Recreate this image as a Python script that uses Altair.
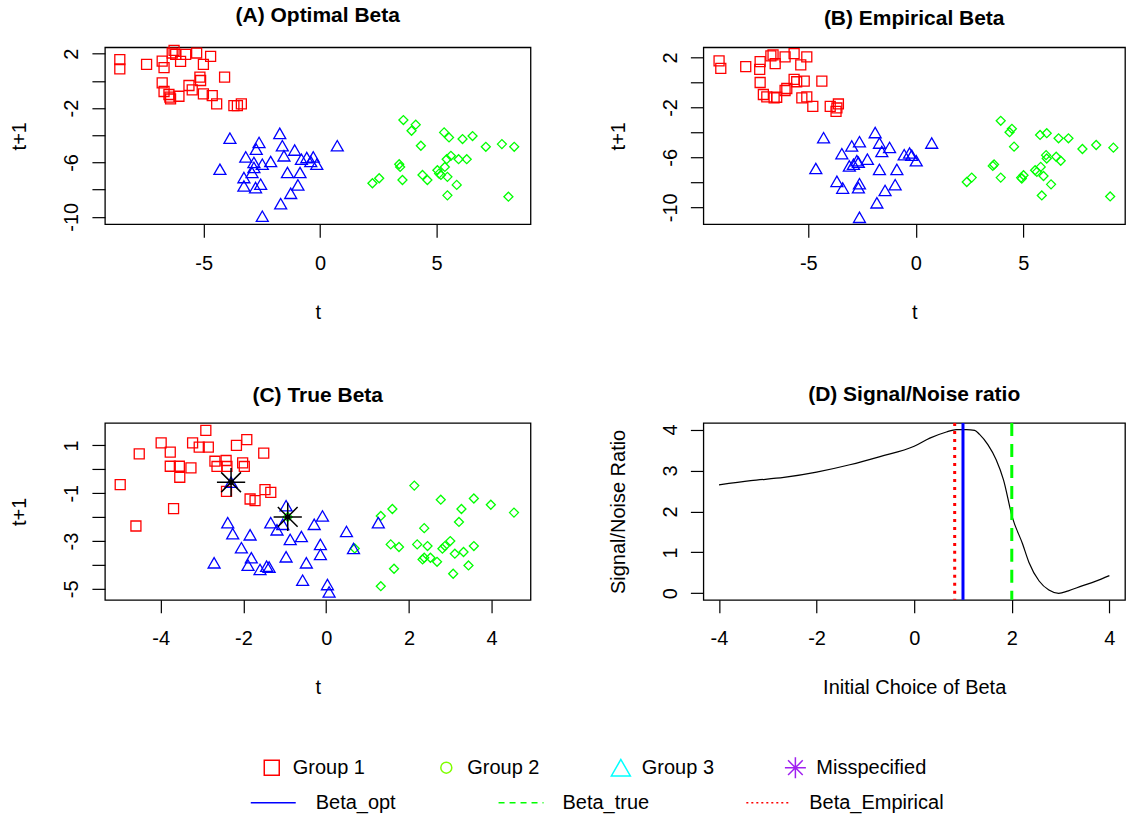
import altair as alt
import pandas as pd

FONT = "Liberation Sans"
MINUS = "\u2212"

# ---------------- Panel A: Optimal Beta ----------------
a_g1_t = [-8.60, -8.60, -7.45, -6.78, -6.70, -6.35, -6.20, -6.27, -5.99, -5.77, -5.30, -5.01, -4.70, -6.78, -6.70,
          -6.49, -6.42, -6.06, -5.63, -5.49, -5.16, -5.13, -5.01, -4.63, -4.44, -4.10, -3.70, -3.55, -3.38, -6.45]
a_g1_y = [1.56, 0.89, 1.21, 1.46, 0.97, 2.05, 1.95, 2.25, 1.43, 1.95, 2.05, 1.21, 1.80, -0.14, -0.78,
          -1.00, -1.33, -1.13, -0.34, -0.66, 0.28, 0.03, -0.96, -1.08, -1.69, 0.28, -1.82, -1.82, -1.69, -1.20]
a_g2_t = [3.58, 4.11, 3.93, 4.33, 5.33, 5.54, 6.12, 6.55, 7.12, 7.81, 8.34, 3.40, 3.44, 2.25, 2.54,
          3.54, 4.40, 4.61, 5.04, 5.19, 5.36, 5.44, 5.62, 5.95, 6.30, 5.47, 5.87, 5.47, 8.09, 5.11]
a_g2_y = [-2.88, -3.22, -3.67, -4.77, -3.79, -4.16, -4.28, -4.06, -4.85, -4.65, -4.85, -6.13, -6.33, -7.53, -7.16,
          -7.29, -6.92, -7.29, -6.57, -6.92, -6.33, -5.76, -5.51, -5.76, -5.76, -7.06, -7.65, -8.42, -8.52, -6.82]
a_g3_t = [-3.87, -4.30, -2.62, -2.74, -1.73, -1.62, -1.55, -1.09, -3.19, -2.84, -2.48, -2.12, -2.92, -3.27, -3.27,
          -2.77, -2.55, -1.40, -0.86, -0.95, -1.26, -1.69, -2.48, -0.80, -0.57, -0.29, -0.40, -0.14, 0.74, -2.84]
a_g3_y = [-4.21, -6.50, -4.53, -5.02, -3.86, -4.77, -5.51, -5.09, -5.59, -6.00, -6.13, -5.93, -6.74, -7.11, -7.73,
          -7.85, -7.60, -6.74, -6.74, -7.65, -8.27, -9.03, -9.95, -5.76, -5.64, -5.59, -5.93, -6.13, -4.77, -6.37]

# ---------------- Panel B: Empirical Beta ----------------
b_g1_t = [-9.15, -9.07, -7.91, -7.24, -7.26, -6.74, -6.64, -6.54, -6.08, -5.66, -5.35, -5.07, -7.24, -7.09, -6.93,
          -6.59, -6.47, -6.08, -6.00, -5.66, -5.54, -5.19, -5.30, -5.07, -4.79, -4.37, -3.98, -3.71, -3.67, -3.60]
b_g1_y = [1.73, 1.14, 1.27, 1.68, 1.06, 2.13, 2.22, 1.51, 2.05, 2.32, 1.41, 2.05, 0.00, -0.96, -1.15,
          -1.23, -1.18, -0.64, -0.48, 0.25, 0.06, 0.11, -1.23, -1.15, -1.91, 0.11, -1.91, -2.31, -2.04, -1.72]
b_g2_t = [3.95, 4.47, 4.36, 4.57, 5.78, 6.09, 6.64, 7.10, 7.75, 8.39, 9.19, 3.64, 3.58, 2.37, 2.60,
          3.95, 4.90, 5.01, 5.55, 5.63, 5.81, 6.06, 6.09, 6.53, 6.74, 5.94, 6.29, 5.86, 9.04, 4.93]
b_g2_y = [-3.07, -3.71, -3.98, -5.14, -4.20, -4.06, -4.47, -4.47, -5.33, -5.01, -5.22, -6.57, -6.68, -7.97, -7.62,
          -7.62, -7.62, -7.43, -7.03, -7.16, -6.76, -5.82, -6.09, -5.95, -6.27, -7.49, -8.16, -9.05, -9.13, -7.70]
b_g3_t = [-4.29, -4.65, -2.62, -1.89, -2.98, -3.44, -1.69, -1.58, -1.22, -2.74, -2.67, -3.09, -2.90, -2.25, -1.69,
          -0.88, -3.67, -3.40, -2.62, -2.67, -1.43, -0.96, -1.81, -2.62, -0.54, -0.29, -0.19, 0.02, 0.74]
b_g3_y = [-4.42, -6.89, -4.74, -4.01, -5.08, -5.70, -4.85, -5.53, -5.20, -6.26, -6.39, -6.68, -6.55, -6.14, -6.96,
          -6.96, -7.92, -8.46, -8.11, -8.43, -8.65, -8.19, -9.64, -10.80, -5.78, -5.65, -5.83, -6.27, -4.85]

# ---------------- Panel C: True Beta ----------------
c_g1_t = [-4.52, -4.98, -4.60, -3.69, -3.99, -3.77, -3.77, -3.55, -3.54, -3.27, -3.23, -3.07, -2.85, -2.91,
          -2.69, -2.64, -2.42, -2.40, -2.17, -1.92, -2.02, -1.98, -2.41, -1.51, -1.48, -1.34, -1.84, -1.72]
c_g1_y = [0.65, -0.64, -2.37, -1.64, 1.11, 0.72, 0.13, 0.13, -0.33, 0.06, 1.11, 0.93, 0.93, 1.63,
          0.34, 0.12, 0.37, 0.12, 1.00, 1.24, 0.27, 0.12, -0.92, 0.68, -0.85, -0.96, -1.24, -1.31]
c_g2_t = [0.69, 1.32, 1.60, 2.13, 2.77, 3.27, 3.57, 3.98, 4.54, 3.21, 2.37, 1.56, 1.76, 2.20, 2.45,
          2.81, 2.87, 3.00, 3.11, 3.32, 3.57, 2.33, 2.37, 2.52, 2.68, 3.44, 1.64, 3.07, 1.32, -0.93]
c_g2_y = [-3.31, -1.95, -1.66, -0.68, -1.27, -1.66, -1.22, -1.48, -1.81, -2.20, -2.46, -3.14, -3.25, -3.14, -3.21,
          -3.32, -3.21, -3.00, -3.53, -3.46, -3.21, -3.77, -3.70, -3.70, -3.87, -4.02, -4.16, -4.37, -4.89, -1.99]
c_g3_t = [-2.38, -2.26, -2.71, -1.84, -2.05, -1.81, -1.89, -1.60, -1.44, -1.38, -1.34, -1.19, -1.05, -0.97, -0.87,
          -0.60, -0.97, -0.48, -0.57, -0.29, -0.09, -0.14, -0.14, 0.03, 0.07, 0.49, 0.66, 1.26, -2.30]
c_g3_y = [-2.23, -2.69, -3.91, -2.74, -3.28, -3.70, -4.01, -4.19, -4.05, -4.09, -2.23, -2.53, -2.30, -1.52, -2.93,
          -2.81, -3.66, -3.91, -4.64, -2.30, -1.95, -3.14, -3.56, -4.82, -5.13, -2.60, -3.31, -2.23, -0.54]
c_mis_t = [-2.30, -0.93]
c_mis_y = [-0.54, -1.99]

# ---------------- Panel D: Signal/Noise ratio ----------------
d_beta = [-4.00, -3.35, -2.67, -2.00, -1.32, -0.70, 0.00, 0.32, 0.66, 0.86, 1.07, 1.24, 1.34, 1.51, 1.68,
          1.83, 2.01, 2.22, 2.35, 2.56, 2.76, 2.96, 3.16, 3.44, 3.71, 4.00]
d_snr = [2.65, 2.75, 2.83, 2.96, 3.14, 3.34, 3.59, 3.79, 3.94, 4.00, 4.00, 3.98, 3.88, 3.63, 3.26,
         2.77, 1.86, 1.21, 0.76, 0.30, 0.08, 0.00, 0.06, 0.18, 0.29, 0.43]
beta_opt = 1.00
beta_true = 2.00
beta_emp = 0.83

# ---------------- Legend ----------------
leg_groups = ["Group 1", "Group 2", "Group 3", "Misspecified"]
leg_lines = ["Beta_opt", "Beta_true", "Beta_Empirical"]

# ---------------- styles ----------------
RED, GREEN, BLUE = "#FF0000", "#00FF00", "#0000FF"
ASTER = "M-1,0L1,0M0,-1L0,1M-0.7,-0.7L0.7,0.7M-0.7,0.7L0.7,-0.7"
W_L, W_R, H = 426, 422, 177


def lab(cond=None):
    s = f"replace(datum.label, '{MINUS}', '-')"
    return f"{cond} ? {s} : ''" if cond else s


def pts(tv, yv, color, shape, size, xsc, ysc, xax, yax, sw=1.3, filled=False):
    df = pd.DataFrame({"t": tv, "y": yv})
    return alt.Chart(df).mark_point(filled=filled, color=color, shape=shape, size=size,
                                    strokeWidth=sw, opacity=1).encode(
        x=alt.X("t:Q", scale=xsc, axis=xax),
        y=alt.Y("y:Q", scale=ysc, axis=yax))


def scatter(title, groups, xdom, ydom, xticks, yticks, ycond, width, extra=()):
    xsc = alt.Scale(domain=xdom, nice=False, zero=False)
    ysc = alt.Scale(domain=ydom, nice=False, zero=False)
    xax = alt.Axis(values=xticks, title="t", labelExpr=lab())
    yax = alt.Axis(values=yticks, title="t+1", labelExpr=lab(ycond))
    layers = []
    for tv, yv, color, shape, size in groups:
        layers.append(pts(tv, yv, color, shape, size, xsc, ysc, xax, yax))
    for tv, yv, color, shape, size, sw, filled in extra:
        layers.append(pts(tv, yv, color, shape, size, xsc, ysc, xax, yax, sw=sw, filled=filled))
    return alt.layer(*layers).properties(width=width, height=H, title=title)


ab_y = [-10, -8, -6, -4, -2, 0, 2]
ab_cond = "abs(datum.value % 4) == 2"

A = scatter("(A) Optimal Beta",
            [(a_g1_t, a_g1_y, RED, "square", 100),
             (a_g2_t, a_g2_y, GREEN, "diamond", 81),
             (a_g3_t, a_g3_y, BLUE, "triangle-up", 144)],
            [-9.24, 9.04], [-10.54, 2.47], [-5, 0, 5], ab_y, ab_cond, W_L)

B = scatter("(B) Empirical Beta",
            [(b_g1_t, b_g1_y, RED, "square", 100),
             (b_g2_t, b_g2_y, GREEN, "diamond", 81),
             (b_g3_t, b_g3_y, BLUE, "triangle-up", 144)],
            [-9.88, 9.73], [-11.35, 2.82], [-5, 0, 5], ab_y, ab_cond, W_R)

C = scatter("(C) True Beta",
            [(c_g1_t, c_g1_y, RED, "square", 100),
             (c_g2_t, c_g2_y, GREEN, "diamond", 81),
             (c_g3_t, c_g3_y, BLUE, "triangle-up", 144)],
            [-5.35, 4.94], [-5.46, 1.94], [-4, -2, 0, 2, 4], [-5, -4, -3, -2, -1, 0, 1],
            "abs(datum.value % 2) == 1", W_L,
            extra=[(c_mis_t, c_mis_y, "black", ASTER, 800, 1.5, False),
                   (c_mis_t, c_mis_y, "black", "circle", 30, 1, True)])

# Panel D
dx = alt.Scale(domain=[-4.32, 4.32], nice=False, zero=False)
dy = alt.Scale(domain=[-0.16, 4.16], nice=False, zero=False)
dxa = alt.Axis(values=[-4, -2, 0, 2, 4], title="Initial Choice of Beta", labelExpr=lab())
dya = alt.Axis(values=[0, 1, 2, 3, 4], title="Signal/Noise Ratio")
d_df = pd.DataFrame({"beta": d_beta, "snr": d_snr})
d_line = alt.Chart(d_df).mark_line(color="black", strokeWidth=1.2, interpolate="monotone").encode(
    x=alt.X("beta:Q", scale=dx, axis=dxa), y=alt.Y("snr:Q", scale=dy, axis=dya))


def vrule(val, color, dash):
    m = dict(color=color, strokeWidth=3)
    if dash:
        m["strokeDash"] = dash
    return alt.Chart(pd.DataFrame({"beta": [val]})).mark_rule(**m).encode(
        x=alt.X("beta:Q", scale=dx, axis=dxa))


D = alt.layer(d_line,
              vrule(beta_emp, RED, [3, 5]),
              vrule(beta_opt, BLUE, None),
              vrule(beta_true, GREEN, [13, 8])).properties(
    width=W_R, height=H, title="(D) Signal/Noise ratio")

# Legend (drawn as its own small chart under panel C; marks spill outside it)
LW, LH = 426, 12
lxs = alt.Scale(domain=[0, LW], nice=False, zero=False)
lys = alt.Scale(domain=[0, LH], nice=False, zero=False, reverse=True)
row1_y, row2_y = -31, 4
sym_colors = [RED, "#7FFF00", "#00FFFF", "#A020F0"]
sym_shapes = ["square", "circle", "triangle-up", ASTER]
sym_sizes = [225, 121, 361, 441]
line_colors = [BLUE, GREEN, RED]
line_dash = [None, [6, 5], [2, 3]]

leg_layers = []
for i, name in enumerate(leg_groups):
    sx = 167 + i * 174.7
    d = pd.DataFrame({"x": [sx], "y": [row1_y], "tx": [sx + 21], "label": [name]})
    leg_layers.append(alt.Chart(d).mark_point(filled=False, shape=sym_shapes[i], color=sym_colors[i],
                                              size=sym_sizes[i], strokeWidth=1.5, opacity=1).encode(
        x=alt.X("x:Q", scale=lxs, axis=None), y=alt.Y("y:Q", scale=lys, axis=None)))
    leg_layers.append(alt.Chart(d).mark_text(align="left", baseline="middle", fontSize=20, color="black",
                                             font=FONT).encode(
        x=alt.X("tx:Q", scale=lxs, axis=None), y=alt.Y("y:Q", scale=lys, axis=None), text="label:N"))
for i, name in enumerate(leg_lines):
    x0 = 146 + i * 248
    d = pd.DataFrame({"x": [x0], "x2": [x0 + 45], "y": [row2_y], "tx": [211 + i * 247], "label": [name]})
    m = dict(color=line_colors[i], strokeWidth=1.5)
    if line_dash[i]:
        m["strokeDash"] = line_dash[i]
    leg_layers.append(alt.Chart(d).mark_rule(**m).encode(
        x=alt.X("x:Q", scale=lxs, axis=None), x2="x2:Q", y=alt.Y("y:Q", scale=lys, axis=None)))
    leg_layers.append(alt.Chart(d).mark_text(align="left", baseline="middle", fontSize=20, color="black",
                                             font=FONT).encode(
        x=alt.X("tx:Q", scale=lxs, axis=None), y=alt.Y("y:Q", scale=lys, axis=None), text="label:N"))

LEG = alt.layer(*leg_layers).properties(width=LW, height=LH,
                                         view=alt.ViewBackground(stroke="transparent"))

chart = alt.concat(A, B, C, D, LEG, columns=2, bounds="flush",
                   spacing={"row": 199, "column": 173}).configure(
    font=FONT, padding={"left": 9, "top": 3, "right": 0, "bottom": 0}
).configure_view(
    stroke="black", strokeWidth=1.3
).configure_title(
    font=FONT, fontSize=21, fontWeight="bold", color="black", anchor="middle", offset=17
).configure_axis(
    domain=False, grid=False, tickSize=13, tickColor="black", tickWidth=1.2,
    labelFont=FONT, labelFontSize=20, labelColor="black", labelOverlap=False, labelFlush=False,
    titleFont=FONT, titleFontSize=20, titleFontWeight="normal", titleColor="black"
).configure_axisX(
    labelPadding=16, titlePadding=29
).configure_axisY(
    labelAngle=270, labelAlign="center", labelBaseline="bottom", labelPadding=10, titlePadding=32
)

chart.save("out.html", embed_options={"renderer": "svg", "actions": False})
